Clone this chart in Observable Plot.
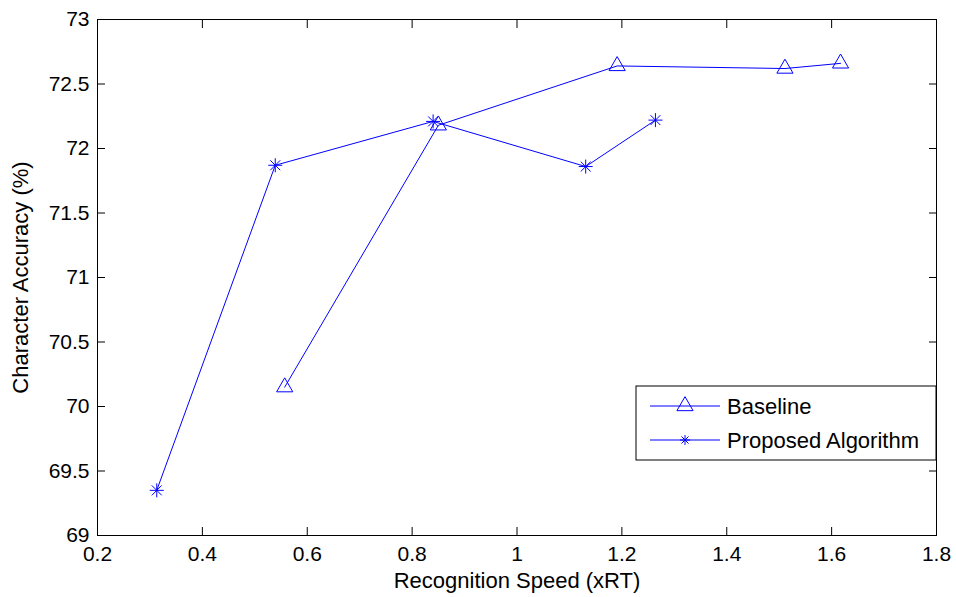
<!DOCTYPE html>
<html>
<head>
<meta charset="utf-8">
<script src="https://cdn.jsdelivr.net/npm/d3@7"></script>
<script src="https://cdn.jsdelivr.net/npm/@observablehq/plot@0.6"></script>
<style>
  html, body { margin: 0; padding: 0; background: #fff; }
  svg { display: block; }
</style>
</head>
<body>
<div id="chart"></div>
<script>
// ---- data ----
const baselineX = [0.557, 0.850, 1.191, 1.511, 1.617];
const baselineY = [70.15, 72.18, 72.64, 72.62, 72.66];
const proposedX = [0.313, 0.539, 0.840, 1.131, 1.264];
const proposedY = [69.35, 71.87, 72.21, 71.86, 72.22];
const xTicks = [0.2, 0.4, 0.6, 0.8, 1.0, 1.2, 1.4, 1.6, 1.8];
const yTicks = [69, 69.5, 70, 70.5, 71, 71.5, 72, 72.5, 73];
const seriesNames = ["Baseline", "Proposed Algorithm"];
const xLabel = "Recognition Speed (xRT)";
const yLabel = "Character Accuracy (%)";

const baseline = baselineX.map((x, i) => ({x, y: baselineY[i]}));
const proposed = proposedX.map((x, i) => ({x, y: proposedY[i]}));

const BLUE = "#0000ff";
const FONT = "'Liberation Sans', Arial, Helvetica, sans-serif";
const FS = 21;
const TICK = 8;

// MATLAB-style 8-arm asterisk
const star8 = {
  draw(ctx, size) {
    const r = Math.sqrt(size / Math.PI);
    const d = r * 0.7071;
    ctx.moveTo(-r, 0); ctx.lineTo(r, 0);
    ctx.moveTo(0, -r); ctx.lineTo(0, r);
    ctx.moveTo(-d, -d); ctx.lineTo(d, d);
    ctx.moveTo(-d, d); ctx.lineTo(d, -d);
  }
};

const fmt = d => String(+d.toFixed(1));
const blank = () => "";

const chart = Plot.plot({
  width: 956,
  height: 597,
  marginTop: 19,
  marginRight: 20,
  marginBottom: 62,
  marginLeft: 97,
  style: {fontFamily: FONT, fontSize: FS + "px", color: "black", background: "white"},
  x: {domain: [0.2, 1.8]},
  y: {domain: [69, 73]},
  marks: [
    // inward ticks on all four sides (outward ticks shifted into the frame)
    Plot.axisX(xTicks, {anchor: "bottom", tickSize: TICK, dy: -TICK, tickFormat: blank, label: null, stroke: "black"}),
    Plot.axisX(xTicks, {anchor: "top", tickSize: TICK, dy: TICK, tickFormat: blank, label: null, stroke: "black"}),
    Plot.axisY(yTicks, {anchor: "left", tickSize: TICK, dx: TICK, tickFormat: blank, label: null, stroke: "black"}),
    Plot.axisY(yTicks, {anchor: "right", tickSize: TICK, dx: -TICK, tickFormat: blank, label: null, stroke: "black"}),
    Plot.frame({stroke: "black", strokeWidth: 1}),
    // tick labels
    Plot.axisX(xTicks, {anchor: "bottom", tickSize: 0, tickPadding: 11, tickFormat: fmt, label: null, fontSize: FS}),
    Plot.axisY(yTicks, {anchor: "left", tickSize: 0, tickPadding: 8, tickFormat: fmt, label: null, fontSize: FS}),
    // axis titles
    Plot.text([xLabel], {text: d => d, frameAnchor: "bottom", lineAnchor: "middle", textAnchor: "middle", dy: 45, fontSize: 22}),
    Plot.text([yLabel], {text: d => d, frameAnchor: "left", lineAnchor: "middle", textAnchor: "middle", dx: -77, rotate: -90, fontSize: 22}),
    // series
    Plot.line(baseline, {x: "x", y: "y", stroke: BLUE, strokeWidth: 1}),
    Plot.line(proposed, {x: "x", y: "y", stroke: BLUE, strokeWidth: 1}),
    Plot.dot(baseline, {x: "x", y: "y", symbol: "triangle", r: 6, stroke: BLUE, fill: "none", strokeWidth: 1}),
    Plot.dot(proposed, {x: "x", y: "y", symbol: star8, r: 7, stroke: BLUE, fill: "none", strokeWidth: 1})
  ]
});

document.getElementById("chart").appendChild(chart);

// ---- legend (inside the plot area, lower right) ----
const svg = d3.select(chart);
const lg = svg.append("g").attr("font-family", FONT).attr("font-size", 22).attr("text-anchor", "start");
const bx = 636, by = 386, bw = 300, bh = 74;
lg.append("rect").attr("x", bx).attr("y", by).attr("width", bw).attr("height", bh)
  .attr("fill", "white").attr("stroke", "black").attr("stroke-width", 1);
const rowsY = [406, 440];
seriesNames.forEach((name, i) => {
  const y = rowsY[i];
  lg.append("line").attr("x1", 650).attr("x2", 720).attr("y1", y).attr("y2", y)
    .attr("stroke", BLUE).attr("stroke-width", 1);
  const sym = i === 0 ? d3.symbolTriangle : star8;
  const size = i === 0 ? Math.PI * 36 : Math.PI * 25;
  lg.append("path").attr("transform", `translate(685,${y})`)
    .attr("d", d3.symbol(sym, size)())
    .attr("fill", "none").attr("stroke", BLUE).attr("stroke-width", 1);
  lg.append("text").attr("x", 727).attr("y", y).attr("dy", "0.35em")
    .attr("text-anchor", "start").attr("fill", "black").text(name);
});
</script>
</body>
</html>
